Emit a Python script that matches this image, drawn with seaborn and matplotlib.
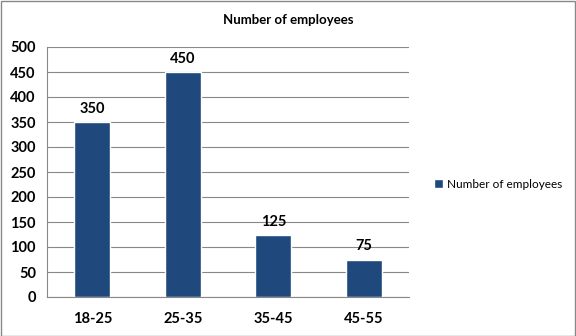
import matplotlib
matplotlib.use("Agg")
import matplotlib.pyplot as plt
import seaborn as sns
import pandas as pd
from matplotlib.patches import Rectangle

categories = ["18-25", "25-35", "35-45", "45-55"]
values = [350, 450, 125, 75]
series_name = "Number of employees"
yticks = [0, 50, 100, 150, 200, 250, 300, 350, 400, 450, 500]

df = pd.DataFrame({"age": categories, "count": values, "series": series_name})

sns.set_style("white")
plt.rcParams['font.family'] = ['Lato', 'DejaVu Sans']
plt.rcParams['text.color'] = 'black'
plt.rcParams['xtick.color'] = 'black'
plt.rcParams['ytick.color'] = 'black'

W, H = 576, 336
fig = plt.figure(figsize=(W / 100, H / 100), dpi=100)
ax = fig.add_axes([47 / W, 1 - 297 / H, (409 - 47) / W, (297 - 47) / H])

color = "#1F497D"
sns.barplot(data=df, x="age", y="count", hue="series", palette=[color],
            width=0.4, ax=ax, legend=False, saturation=1)

ax.set_ylim(0, 500)
ax.set_xlim(-0.5, 3.5)
ax.set_yticks(yticks)
ax.yaxis.grid(True, color="#888888", linewidth=0.8)
ax.set_axisbelow(True)
ax.set_xlabel("")
ax.set_ylabel("")
for s in ["top", "right"]:
    ax.spines[s].set_visible(False)
ax.spines["left"].set_color("#888888")
ax.spines["bottom"].set_color("#888888")
ax.tick_params(axis="y", length=5, color="#888888", labelcolor="black", labelsize=10.5, pad=3)
ax.tick_params(axis="x", length=0, labelcolor="black", labelsize=10.5, pad=11)
for lab in ax.get_yticklabels() + ax.get_xticklabels():
    lab.set_fontweight("bold")

# category boundary ticks on x axis
ax.set_xticks([-0.5, 0.5, 1.5, 2.5, 3.5], minor=True)
ax.tick_params(axis="x", which="minor", length=5, color="#888888")

for i, v in enumerate(values):
    ax.text(i, v + 12, str(v), ha="center", va="bottom", fontsize=10.5, fontweight="bold",
            color="black")

fig.text(288 / W, 1 - 20 / H, series_name, ha="center", va="center",
         fontsize=9.5, fontweight="bold", color="black")

handle = Rectangle((0, 0), 1, 1, facecolor=color)
fig.legend([handle], [series_name], loc="center left", bbox_to_anchor=(423 / W, 1 - 184 / H),
           frameon=False, fontsize=8.5, handlelength=0.8, handleheight=0.8, handletextpad=0.3,
           labelcolor="black")

fig.patches.append(Rectangle((0.5 / W, 0.5 / H), 1 - 1.5 / W, 1 - 1.5 / H, transform=fig.transFigure,
                             fill=False, edgecolor="#888888", linewidth=1))

fig.savefig("out.png", dpi=100)
